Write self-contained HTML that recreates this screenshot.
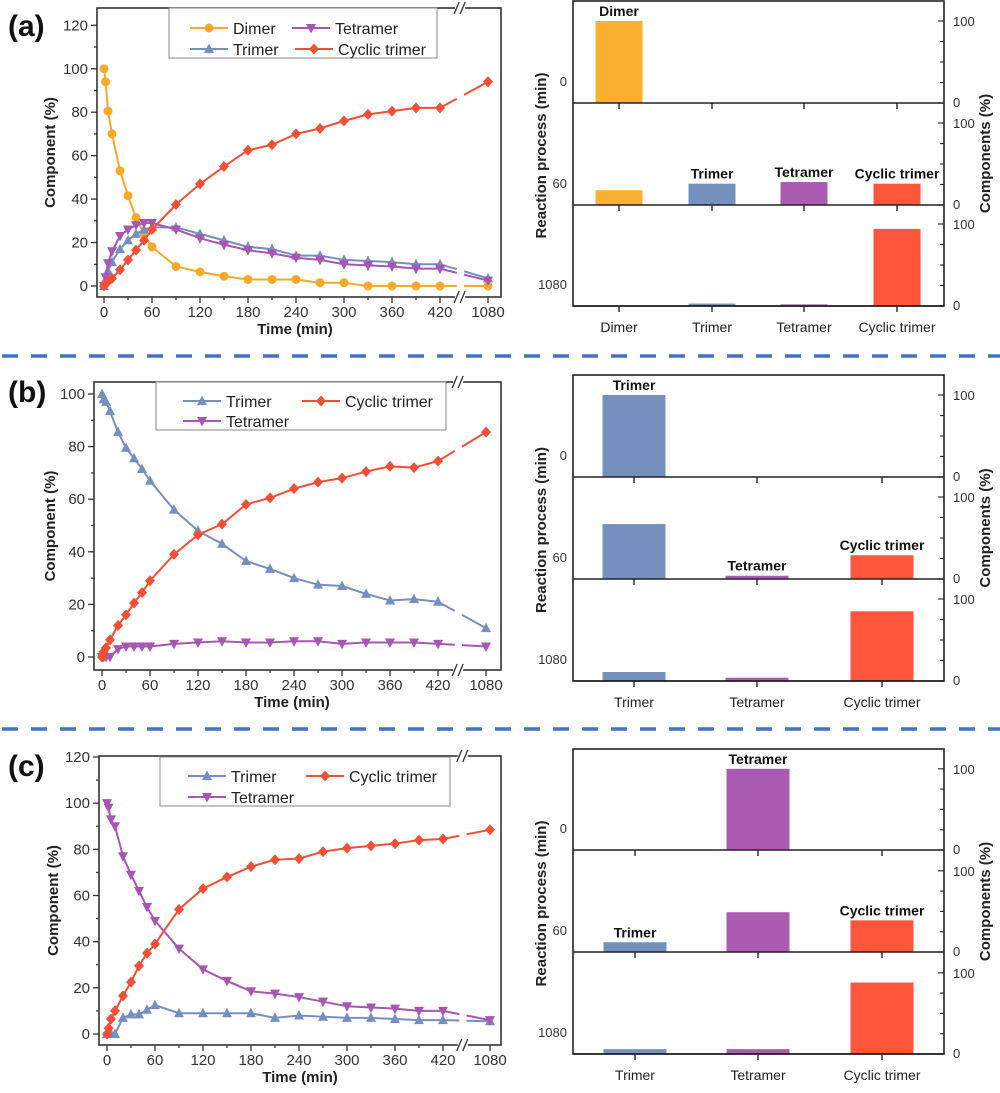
<!DOCTYPE html>
<html><head><meta charset="utf-8"><style>
body{margin:0;background:#fff;}
svg{display:block;font-family:"Liberation Sans",Arial,sans-serif;}
</style></head><body>
<svg id="fig" width="1000" height="1093" viewBox="0 0 1000 1093" xmlns="http://www.w3.org/2000/svg"></svg>
<script>
// ===== data =====
const times = [0,2,5,10,20,30,40,50,60,90,120,150,180,210,240,270,300,330,360,390,420,1080];
const xTickLabels = [0,60,120,180,240,300,360,420,1080];
const aDimer    = [100,94,80.5,70,53,41.5,31.5,24,18,9,6.5,4.5,3,3,3,1.5,1.5,0,0,0,0,0];
const aTrimer   = [0,3,7,11,17,21,24,26,27,27,24,21,18,17,14,14,12,11.5,11,10,10,3.5];
const aTetramer = [0,4,10.5,16,23,26,28,29,29,26,22,19,16.5,15,13,12,10,9.5,9,8,8,2.5];
const aCyclic   = [0,1,2,3.5,7.5,12,16.5,21,26,37.5,47,55,62.5,65,70,72.5,76,79,80.5,82,82,94];
const bTrimer   = [100,98,97,93.5,85.5,79.5,75.5,71.5,67,56,48,43,36.5,33.5,30,27.5,27,24,21.5,22,21,11];
const bCyclic   = [0,2,3.5,6.5,12,16,20.5,24.5,29,39,46.5,50.5,58,60.5,64,66.5,68,70.5,72.5,72,74.5,85.5];
const bTetramer = [0,0,0,0,3,4,4,4,4,5,5.5,6,5.5,5.5,6,6,5,5.5,5.5,5.5,5,4];
const cTetramer = [100,98,93,90,77,69,62,55,49,37,28,23,18.5,17.5,16,14,12,11.5,11,10,10,6];
const cCyclic   = [0,2.5,6.5,10,16.5,22.5,29.5,35,39,54,63,68,72.5,75.5,76,79,80.5,81.5,82.5,84,84.5,88.5];
const cTrimer   = [0,0,0,0,7,8.5,8.5,10.5,12.5,9,9,9,9,7,8,7.5,7,7,6.5,6,6,5.5];
const aYTicks = [0,20,40,60,80,100,120];
const bYTicks = [0,20,40,60,80,100];
const cYTicks = [0,20,40,60,80,100,120];
const aCats = ["Dimer","Trimer","Tetramer","Cyclic trimer"];
const bcCats = ["Trimer","Tetramer","Cyclic trimer"];
const stageLabels = ["0","60","1080"];
const aBar0 = [100,0,0,0], aBar60 = [18,26,28,26], aBar1080 = [0,3,2,94];
const bBar0 = [100,0,0], bBar60 = [67,4,29], bBar1080 = [11,4,85];
const cBar0 = [0,100,0], cBar60 = [12,49,39], cBar1080 = [6,6,88];
const barTicks = [0,100];

const COL = {Dimer:"#f7a92a",Trimer:"#7590c0",Tetramer:"#a855b3","Cyclic trimer":"#f24f37"};
const BAR = {Dimer:"#fbb12e",Trimer:"#7690be",Tetramer:"#ab5bb1","Cyclic trimer":"#fe553b"};
const svg = document.getElementById('fig');
const NS = "http://www.w3.org/2000/svg";
function el(tag, attrs, parent, text){
  const e = document.createElementNS(NS, tag);
  for (const k in attrs) e.setAttribute(k, attrs[k]);
  if (text !== undefined) e.textContent = text;
  (parent||svg).appendChild(e); return e;
}

function marker(g, type, x, y, c){
  let m;
  if (type==="Dimer") m = el('circle',{cx:x,cy:y,r:4.5,fill:c},g);
  else if (type==="Trimer") m = el('polygon',{points:`${x},${y-5.5} ${x-5},${y+4} ${x+5},${y+4}`,fill:c},g);
  else if (type==="Tetramer") m = el('polygon',{points:`${x},${y+5.5} ${x-5},${y-4} ${x+5},${y-4}`,fill:c},g);
  else m = el('polygon',{points:`${x},${y-5.5} ${x+5},${y} ${x},${y+5.5} ${x-5},${y}`,fill:c},g);
  
  
}

function linePanel(cfg){
  const g = el('g',{});
  
  
  const {L,T,R,B,x0,x420,x1080,y0,yPerUnit} = cfg;
  const xs = t => t<=420 ? x0 + (x420-x0)*t/420 : x1080;
  const ys = v => y0 - v*yPerUnit;
  const box = el('rect',{x:L,y:T,width:R-L,height:B-T,fill:'none',stroke:'#333','stroke-width':1.6},g);
   
  const bx = x420 + (x1080-x420)*0.42;
  [T,B].forEach(yy=>{
    el('rect',{x:bx-5,y:yy-5,width:10,height:10,fill:'#fff'},g);
    el('line',{x1:bx-6,y1:yy+6,x2:bx-1,y2:yy-6,stroke:'#333','stroke-width':1.3},g);
    el('line',{x1:bx,y1:yy+6,x2:bx+5,y2:yy-6,stroke:'#333','stroke-width':1.3},g);
  });
  cfg.yTicks.forEach((v,i)=>{
    const y = ys(v);
    el('line',{x1:L-6,y1:y,x2:L,y2:y,stroke:'#333','stroke-width':1.3},g);
    if (i<cfg.yTicks.length-1) el('line',{x1:L-3,y1:ys(v+10),x2:L,y2:ys(v+10),stroke:'#333','stroke-width':1.2},g);
    const t = el('text',{x:L-9,y:y+5,'text-anchor':'end','font-size':15,fill:'#333'},g,String(v));
     
  });
  xTickLabels.forEach(v=>{
    const x = xs(v);
    el('line',{x1:x,y1:B,x2:x,y2:B+6,stroke:'#333','stroke-width':1.3},g);
    if (v<420) el('line',{x1:xs(v+30),y1:B,x2:xs(v+30),y2:B+3,stroke:'#333','stroke-width':1.2},g);
    const t = el('text',{x:x,y:B+20,'text-anchor':'middle','font-size':15,fill:'#333'},g,String(v));
     
  });
  const xt = el('text',{x:cfg.xTitleX,y:B+37,'text-anchor':'middle','font-size':15,'font-weight':'bold',fill:'#222'},g,'Time (min)');
   
  const yc = (T+B)/2;
  const yt = el('text',{x:0,y:0,transform:`translate(${cfg.yTitleX},${yc}) rotate(-90)`,'text-anchor':'middle','font-size':15,'font-weight':'bold',fill:'#222'},g,'Component (%)');
   
  const pl = el('text',{x:8,y:T+cfg.labelDy,'font-size':30,'font-weight':'bold',fill:'#111'},g,cfg.label);
   
  cfg.series.forEach(s=>{
    const c = COL[s.name];
    const sg = el('g',{},g);
    
    
    const n = times.length;
    let d = '';
    for (let i=0;i<n-1;i++) d += (i?'L':'M')+xs(times[i])+','+ys(s.vals[i]);
    el('path',{d:d,fill:'none',stroke:c,'stroke-width':2},sg);
    const xa=xs(times[n-2]), ya=ys(s.vals[n-2]), xb=xs(times[n-1]), yb=ys(s.vals[n-1]);
    const f1=0.35, f2=0.5;
    el('line',{x1:xa,y1:ya,x2:xa+(xb-xa)*f1,y2:ya+(yb-ya)*f1,stroke:c,'stroke-width':2},sg);
    el('line',{x1:xa+(xb-xa)*f2,y1:ya+(yb-ya)*f2,x2:xb,y2:yb,stroke:c,'stroke-width':2},sg);
    for (let i=0;i<n;i++) marker(sg, s.name, xs(times[i]), ys(s.vals[i]), c);
  });
  const lg = el('g',{},g);
   
  const lb = cfg.legend;
  el('rect',{x:lb.x,y:lb.y,width:lb.w,height:lb.h,fill:'#fff',stroke:'#888','stroke-width':1},lg);
  lb.items.forEach(it=>{
    const e = el('g',{},lg);
     
    el('line',{x1:it.x,y1:it.y,x2:it.x+38,y2:it.y,stroke:COL[it.n],'stroke-width':2},e);
    marker(e, it.n, it.x+19, it.y, COL[it.n]);
    el('text',{x:it.x+43,y:it.y+6,'font-size':16,fill:'#222'},e,it.n);
  });
}

function barPanel(cfg){
  const g = el('g',{});
  
  
  const {L,R,tops,cx,bw} = cfg;
  const H = tops[1]-tops[0];
  const scale = 82/100;
  cfg.stages.forEach((vals,si)=>{
    const top = tops[si], bot = tops[si+1];
    const ys = v => bot - v*scale*H/102;
    vals.forEach((v,ci)=>{
      if (v<=0) return;
      const cat = cfg.cats[ci];
      const r = el('rect',{x:cx[ci]-bw/2,y:ys(v),width:bw,height:bot-ys(v),fill:BAR[cat]},g);
      
      
    });
    (cfg.labels[si]||[]).forEach(ci=>{
      const t = el('text',{x:cx[ci],y:ys(vals[ci])-5,'text-anchor':'middle','font-size':14,'font-weight':'bold',fill:'#111'},g,cfg.cats[ci]);
       
    });
    for (let k=0;k<=4;k++){
      const y = ys(k*25);
      el('line',{x1:R-(k%4===0?6:4),y1:y,x2:R,y2:y,stroke:'#333','stroke-width':1.2},g);
    }
    barTicks.forEach(v=>{
      const t = el('text',{x:R+9,y:ys(v)+(v===0?4:5),'font-size':13,fill:'#333'},g,String(v));
       
    });
    const sl = el('text',{x:L-6,y:bot-17,'text-anchor':'end','font-size':13,fill:'#333'},g,stageLabels[si]);
     
    cx.forEach(x=>el('line',{x1:x,y1:bot,x2:x,y2:bot+6,stroke:'#333','stroke-width':1.5},g));
    el('line',{x1:L,y1:bot,x2:R,y2:bot,stroke:'#222','stroke-width':1.6},g);
  });
  el('rect',{x:L,y:tops[0],width:R-L,height:tops[3]-tops[0],fill:'none',stroke:'#222','stroke-width':1.6},g);
  cfg.cats.forEach((c,ci)=>{
    const t = el('text',{x:cx[ci],y:tops[3]+26,'text-anchor':'middle','font-size':14,fill:'#222'},g,c);
     
  });
  const mid = (tops[0]+tops[3])/2;
  const lt = el('text',{x:0,y:0,transform:`translate(${L-27},${mid+2}) rotate(-90)`,'text-anchor':'middle','font-size':15,'font-weight':'bold',fill:'#222'},g,'Reaction process (min)');
   
  const rt = el('text',{x:0,y:0,transform:`translate(${R+46},${mid}) rotate(-90)`,'text-anchor':'middle','font-size':15,'font-weight':'bold',fill:'#222'},g,'Components (%)');
   
}

[356,729].forEach(y=>{
  const s = el('line',{x1:2,y1:y,x2:1000,y2:y,stroke:'#4472c4','stroke-width':3.5,'stroke-dasharray':'16 13'});
   
});

linePanel({name:'chart-a-line',label:'(a)',labelDy:28,L:97,T:8,R:501,B:297,x0:104,x420:440,x1080:488,y0:286,yPerUnit:(286-25.3)/120,
  yTicks:aYTicks,xTitleX:295,yTitleX:55,
  series:[{name:'Dimer',vals:aDimer},{name:'Trimer',vals:aTrimer},{name:'Tetramer',vals:aTetramer},{name:'Cyclic trimer',vals:aCyclic}],
  legend:{x:169,y:8,w:268,h:50,items:[{n:'Dimer',x:190,y:28},{n:'Tetramer',x:292,y:28},{n:'Trimer',x:190,y:49},{n:'Cyclic trimer',x:295,y:49}]}});
linePanel({name:'chart-b-line',label:'(b)',labelDy:20,L:94,T:382,R:501,B:670,x0:102,x420:438,x1080:486,y0:657,yPerUnit:(657-394)/100,
  yTicks:bYTicks,xTitleX:292,yTitleX:55,
  series:[{name:'Tetramer',vals:bTetramer},{name:'Trimer',vals:bTrimer},{name:'Cyclic trimer',vals:bCyclic}],
  legend:{x:156,y:382,w:290,h:48,items:[{n:'Trimer',x:183,y:401},{n:'Cyclic trimer',x:302,y:401},{n:'Tetramer',x:183,y:421}]}});
linePanel({name:'chart-c-line',label:'(c)',labelDy:20,L:99,T:756,R:501,B:1045,x0:107,x420:443,x1080:490,y0:1034,yPerUnit:(1034-757)/120,
  yTicks:cYTicks,xTitleX:300,yTitleX:58,
  series:[{name:'Trimer',vals:cTrimer},{name:'Tetramer',vals:cTetramer},{name:'Cyclic trimer',vals:cCyclic}],
  legend:{x:160,y:757,w:290,h:49,items:[{n:'Trimer',x:188,y:776},{n:'Cyclic trimer',x:306,y:776},{n:'Tetramer',x:188,y:797}]}});

barPanel({name:'chart-a-bars',L:573,R:944,tops:[1,103,205,306],cx:[619,712,804,897],bw:47,cats:aCats,
  stages:[aBar0,aBar60,aBar1080],labels:[[0],[1,2,3],[]]});
barPanel({name:'chart-b-bars',L:573,R:944,tops:[375,477,579,681],cx:[634,757,882],bw:63,cats:bcCats,
  stages:[bBar0,bBar60,bBar1080],labels:[[0],[1,2],[]]});
barPanel({name:'chart-c-bars',L:573,R:944,tops:[749,850,952,1054],cx:[635,758,882],bw:63,cats:bcCats,
  stages:[cBar0,cBar60,cBar1080],labels:[[1],[0,2],[]]});
</script>
</body></html>
